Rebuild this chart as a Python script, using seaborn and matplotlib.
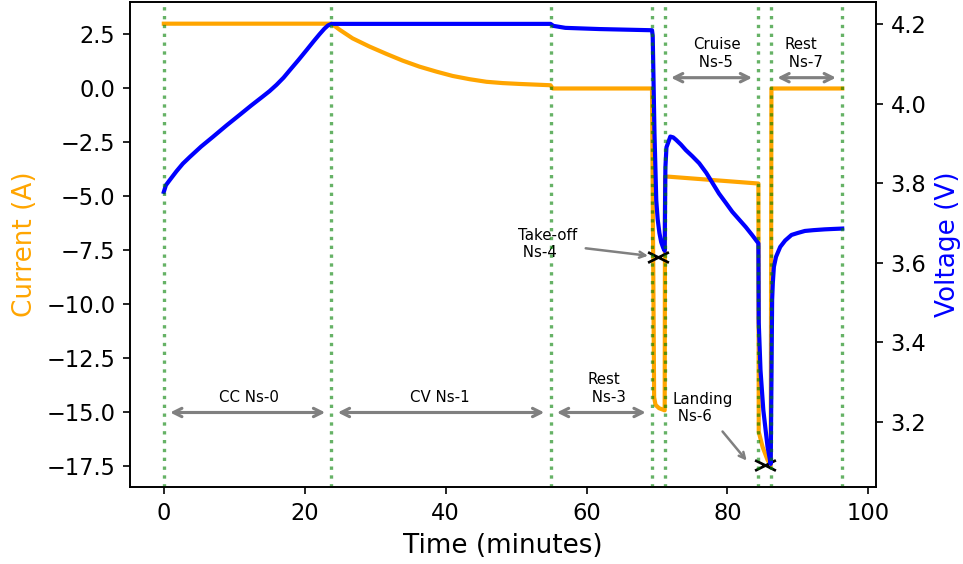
import matplotlib
matplotlib.use("Agg")
import matplotlib.pyplot as plt
import seaborn as sns
from matplotlib.path import Path

# current profile (minutes, A)
time_current = [0, 23.8, 25.0, 26.8, 29.2, 31.6, 33.9, 36.3, 38.7, 41.0, 43.4, 45.8, 48.1, 50.5, 54.9,
                55.2, 69.3, 69.6, 69.8, 70.3, 71.1, 71.15, 84.4, 84.45, 85.0, 85.7, 86.15, 86.25, 96.3]
current = [3.0, 3.0, 2.71, 2.32, 1.94, 1.60, 1.29, 1.01, 0.78, 0.58, 0.43, 0.31, 0.25, 0.21, 0.15,
           0.0, 0.0, -14.3, -14.65, -14.8, -14.9, -4.07, -4.4, -15.9, -16.6, -17.2, -17.45, 0.0, 0.0]

# voltage profile (minutes, V)
time_voltage = [0, 0.3, 0.85, 1.8, 2.7, 3.7, 5.3, 6.95, 8.9, 10.8, 12.4, 14.0, 15.0, 16.0, 17.0, 17.9,
                19.1, 20.3, 21.3, 22.1, 22.8, 23.3, 23.8, 54.9, 55.3, 57.0, 61.8,
                69.3, 69.4, 69.65, 69.9, 70.1, 70.35, 70.6, 70.9, 71.1, 71.15, 71.2, 71.35, 71.9, 72.3,
                72.7, 73.4, 74.1, 75.0, 76.0, 77.0, 77.9, 78.8, 79.8, 80.7, 81.7, 82.6, 83.5, 84.4,
                84.45, 84.7, 85.1, 85.7, 86.15, 86.25, 86.35, 86.45, 86.6, 86.9, 87.5, 88.2, 89.1,
                90.0, 91.0, 92.2, 93.8, 95.0, 96.3]
voltage = [3.778, 3.795, 3.808, 3.83, 3.849, 3.866, 3.892, 3.916, 3.945, 3.972, 3.995, 4.017, 4.031,
           4.047, 4.065, 4.084, 4.109, 4.135, 4.157, 4.174, 4.188, 4.196, 4.2, 4.2, 4.195, 4.19, 4.187,
           4.184, 4.17, 3.925, 3.758, 3.71, 3.675, 3.652, 3.637, 3.63, 3.75, 3.84, 3.89, 3.917, 3.915,
           3.909, 3.897, 3.883, 3.868, 3.85, 3.826, 3.80, 3.774, 3.75, 3.728, 3.708, 3.69, 3.67, 3.649,
           3.45, 3.33, 3.23, 3.138, 3.095, 3.30, 3.507, 3.55, 3.59, 3.615, 3.64, 3.656, 3.67,
           3.675, 3.68, 3.682, 3.684, 3.685, 3.686]

# step boundaries (minutes)
boundaries = [0, 23.8, 54.9, 69.3, 71.1, 84.4, 86.2, 96.3]

# bracketed phases
phase_labels = ["CC Ns-0", "CV Ns-1", "Rest\n Ns-3", "Cruise\n Ns-5", "Rest\n Ns-7"]
phase_start = [0, 23.8, 54.9, 71.1, 86.2]
phase_end = [23.8, 54.9, 69.3, 84.4, 96.3]
phase_level = [-15, -15, -15, 0.5, 0.5]
phase_text_x = [7.9, 35.0, 60.1, 75.2, 88.1]

# minimum markers for take-off / landing
marker_time = [70.2, 85.3]
marker_current = [-7.8, -17.45]

fig, ax = plt.subplots(figsize=(6.42, 3.76), dpi=150)
fig.subplots_adjust(left=0.135, right=0.9097, top=0.9965, bottom=0.1365)

sns.lineplot(x=time_current, y=current, color="orange", lw=2, ax=ax, estimator=None)
ax2 = ax.twinx()
sns.lineplot(x=time_voltage, y=voltage, color="blue", lw=2, ax=ax2, estimator=None)
for b in boundaries:
    ax2.axvline(b, color="green", alpha=0.6, ls=":", lw=1.6)

# wide x marker
xmark = Path([(-1, -0.5), (1, 0.5), (-1, 0.5), (1, -0.5)],
             [Path.MOVETO, Path.LINETO, Path.MOVETO, Path.LINETO])
ax.plot(marker_time, marker_current, ls="none", marker=xmark, ms=10, mec="black", mew=1.3, zorder=5)

for lab, s, e, lvl, tx in zip(phase_labels, phase_start, phase_end, phase_level, phase_text_x):
    ax.annotate("", xy=(s, lvl), xytext=(e, lvl),
                arrowprops=dict(arrowstyle="<->", color="gray", lw=1.5, shrinkA=3, shrinkB=3))
    ax.text(tx, lvl + 0.5, lab, fontsize=7.2)

ax.annotate("Take-off\n Ns-4", xy=(marker_time[0], marker_current[0]), xytext=(50.3, -7.8),
            fontsize=7.2, arrowprops=dict(arrowstyle="->", color="gray", lw=1.2, shrinkB=5))
ax.annotate("Landing\n Ns-6", xy=(83.3, -17.45), xytext=(72.25, -15.4),
            fontsize=7.2, arrowprops=dict(arrowstyle="->", color="gray", lw=1.2, shrinkB=3))

ax.set_xlim(-4.8, 101.1)
ax.set_ylim(-18.45, 4.005)
ax2.set_ylim(3.037, 4.255)
ax.set_xticks([0, 20, 40, 60, 80, 100])
ax.tick_params(labelsize=10.8)
ax2.tick_params(labelsize=10.8)
ax.set_xlabel("Time (minutes)", fontsize=12.6)
ax.set_ylabel("Current (A)", color="orange", fontsize=12.6)
ax2.set_ylabel("Voltage (V)", color="blue", fontsize=12.6)

fig.savefig("out.png", dpi=150)
